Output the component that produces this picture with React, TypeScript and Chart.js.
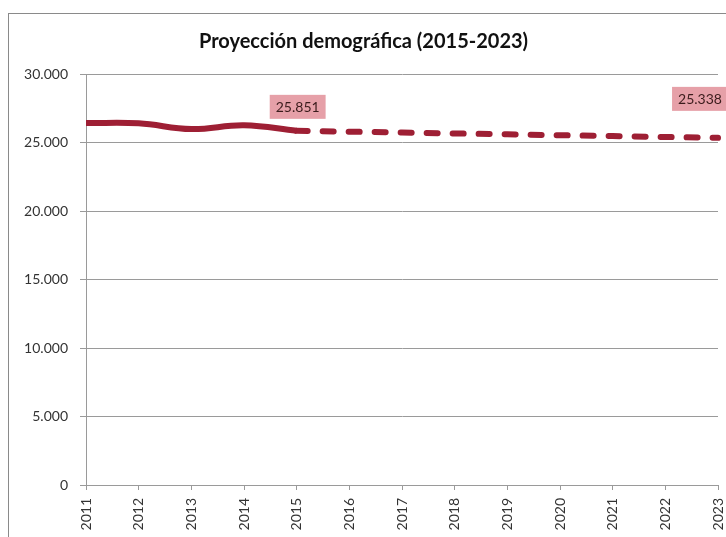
import React, { useEffect, useRef } from "react";
import { Chart, registerables } from "chart.js";

Chart.register(...registerables);

const years = ["2011", "2012", "2013", "2014", "2015", "2016", "2017", "2018", "2019", "2020", "2021", "2022", "2023"];
const actual = [26420, 26400, 25980, 26260, 25851, null, null, null, null, null, null, null, null];
const projection = [null, null, null, null, 25851, 25790, 25730, 25660, 25600, 25530, 25470, 25400, 25338];
const titleText = "Proyección demográfica (2015-2023)";
const yTicks = [0, 5000, 10000, 15000, 20000, 25000, 30000];

const LINE = "#9e1f34";
const FONT = "Lato, 'Open Sans', sans-serif";

const fmt = (v: number) => String(Math.round(v)).replace(/\B(?=(\d{3})+(?!\d))/g, ".");

const labelPlugin = {
  id: "valueBoxes",
  afterDatasetsDraw(chart: any) {
    const items = [
      { ds: 0, idx: 4, dx: 1, dy: -24 },
      { ds: 1, idx: 12, dx: -18, dy: -39 },
    ];
    const ctx = chart.ctx;
    ctx.save();
    ctx.font = `14px ${FONT}`;
    ctx.textAlign = "center";
    ctx.textBaseline = "middle";
    for (const it of items) {
      const meta = chart.getDatasetMeta(it.ds);
      const pt = meta.data[it.idx];
      const val = chart.data.datasets[it.ds].data[it.idx];
      const text = fmt(val);
      const cx = pt.x + it.dx;
      const cy = pt.y + it.dy;
      const w = ctx.measureText(text).width + 12;
      const h = 24;
      ctx.fillStyle = "#e6a0a8";
      ctx.fillRect(cx - w / 2, cy - h / 2, w, h);
      ctx.fillStyle = "#3b1c1c";
      ctx.fillText(text, cx, cy + 1);
    }
    ctx.restore();
  },
};

export default function App() {
  const ref = useRef<HTMLCanvasElement>(null);
  useEffect(() => {
    if (!ref.current) return;
    const chart = new Chart(ref.current, {
      type: "line",
      data: {
        labels: years,
        datasets: [
          {
            data: actual,
            borderColor: LINE,
            borderWidth: 6,
            pointRadius: 0,
            tension: 0.4,
            borderCapStyle: "butt",
            spanGaps: false,
          },
          {
            data: projection,
            borderColor: LINE,
            borderWidth: 6,
            pointRadius: 0,
            tension: 0,
            borderDash: [11, 15],
            borderCapStyle: "round",
          },
        ],
      },
      options: {
        animation: false,
        responsive: false,
        devicePixelRatio: 1,
        layout: { padding: { left: 0, top: 0, bottom: 0, right: 8 } },
        plugins: {
          legend: { display: false },
          tooltip: { enabled: false },
          title: {
            display: true,
            text: titleText,
            color: "#111",
            font: { family: FONT, size: 20, weight: "bold" },
            padding: { top: 16, bottom: 20 },
          },
        },
        scales: {
          x: {
            offset: false,
            grid: { drawOnChartArea: false, drawTicks: true, tickLength: 5, color: "#9a9a9a" },
            border: { color: "#9a9a9a" },
            ticks: {
              minRotation: 90,
              maxRotation: 90,
              autoSkip: false,
              padding: 8,
              color: "#333",
              font: { family: FONT, size: 14 },
            },
            afterFit: (s: any) => {
              s.height = 52;
              s.paddingLeft = 0;
              s.paddingRight = 0;
            },
          },
          y: {
            min: 0,
            max: 30000,
            afterBuildTicks: (s: any) => {
              s.ticks = yTicks.map((v) => ({ value: v }));
            },
            grid: { color: "#9a9a9a", tickLength: 6 },
            border: { color: "#9a9a9a" },
            ticks: {
              padding: 12,
              color: "#333",
              font: { family: FONT, size: 14 },
              callback: (v: any) => fmt(Number(v)),
            },
            afterFit: (s: any) => {
              s.width = 77;
            },
          },
        },
      },
      plugins: [labelPlugin],
    } as any);
    return () => chart.destroy();
  }, []);
  return (
    <div
      style={{
        position: "absolute",
        left: 8,
        top: 13,
        width: 718,
        height: 524,
        borderTop: "1px solid #8a8a8a",
        borderLeft: "1px solid #8a8a8a",
        background: "#fff",
        overflow: "hidden",
      }}
    >
      <canvas ref={ref} width={717} height={523} style={{ display: "block" }} />
    </div>
  );
}
